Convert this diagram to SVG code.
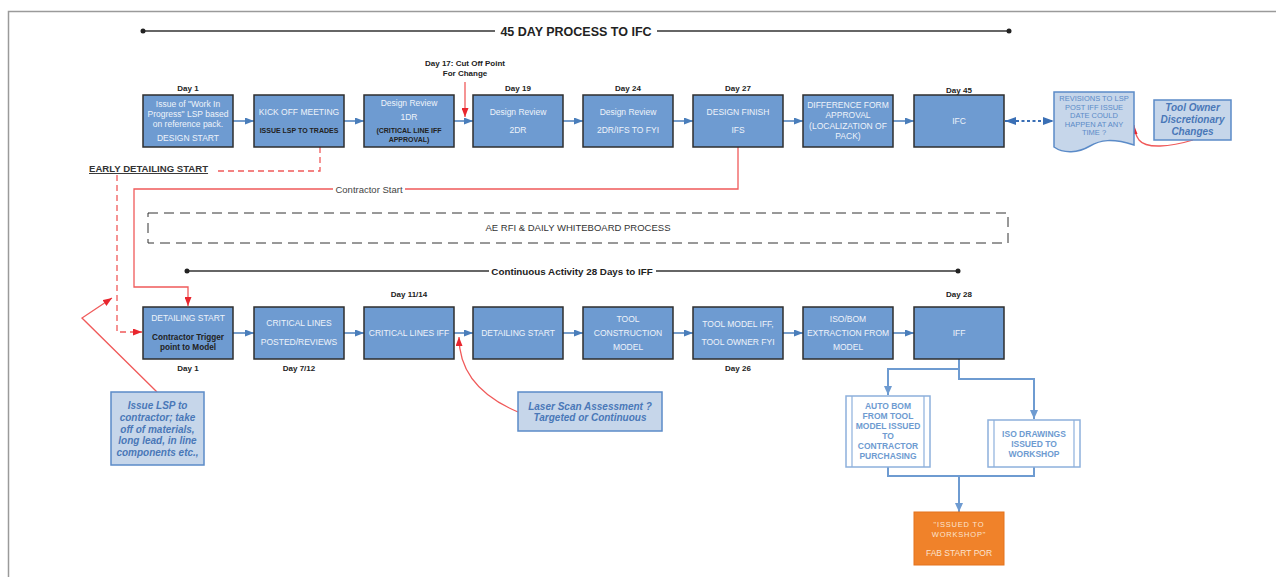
<svg xmlns="http://www.w3.org/2000/svg" width="1276" height="577" viewBox="0 0 1276 577">
<style>
text{font-family:"Liberation Sans",Arial,sans-serif}
.box{fill:#6e9bd1;stroke:#2e2e2e;stroke-width:1.5}
.bt{fill:#eef3fa;font-size:8.5px;text-anchor:middle}
.dk{fill:#222;font-size:7px;font-weight:bold;text-anchor:middle}
.dk2{fill:#222;font-size:8.2px;font-weight:bold;text-anchor:middle}
.day{fill:#222;font-size:8px;font-weight:bold;text-anchor:middle}
.flow{stroke:#4a7ebb;stroke-width:1.5;fill:none;marker-end:url(#ab)}
.red{stroke:#f05a5a;stroke-width:1.3;fill:none}
.call{fill:#c6d6ea;stroke:#5b8bc8;stroke-width:1.5}
.ct{fill:#4a78b8;font-size:10px;font-weight:bold;font-style:italic;text-anchor:middle}
.lb{stroke:#6e9bd1;stroke-width:2;fill:none}
.pp{fill:#fff;stroke:#8db0dc;stroke-width:1.5}
.pt{fill:#6e9bd1;font-size:8.5px;font-weight:bold;text-anchor:middle}
.tl{stroke:#333;stroke-width:1.5}
</style>
<defs>
<marker id="ab" markerUnits="userSpaceOnUse" markerWidth="9" markerHeight="7" refX="9" refY="3.5" orient="auto"><path d="M0,0 L9,3.5 L0,7 z" fill="#4a7ebb"/></marker>
<marker id="ar" markerUnits="userSpaceOnUse" markerWidth="9" markerHeight="7" refX="9" refY="3.5" orient="auto"><path d="M0,0 L9,3.5 L0,7 z" fill="#e8262e"/></marker>
<marker id="al" markerUnits="userSpaceOnUse" markerWidth="9" markerHeight="8" refX="9" refY="4" orient="auto"><path d="M0,0 L9,4 L0,8 z" fill="#6e9bd1"/></marker>
<marker id="ad" markerUnits="userSpaceOnUse" markerWidth="11" markerHeight="8" refX="11" refY="4" orient="auto-start-reverse"><path d="M0,0 L11,4 L0,8 z" fill="#3a6fb5"/></marker>
</defs>
<rect width="1276" height="577" fill="#fff"/>
<path d="M8.5,577 V11.5 H1276" fill="none" stroke="#9a9a9a" stroke-width="1.5"/>

<g id="timeline-top">
<line class="tl" x1="143" y1="31" x2="1009" y2="31"/>
<circle cx="143" cy="31" r="2.5" fill="#222"/><circle cx="1009" cy="31" r="2.5" fill="#222"/>
<rect x="495" y="23" width="162" height="16" fill="#fff"/>
<text x="576" y="35.5" text-anchor="middle" font-size="12.5" font-weight="bold" fill="#222">45 DAY PROCESS TO IFC</text>
</g>
<g id="timeline-bottom">
<line class="tl" x1="187" y1="271" x2="958" y2="271"/>
<circle cx="187" cy="271" r="2.5" fill="#222"/><circle cx="958" cy="271" r="2.5" fill="#222"/>
<rect x="489" y="264" width="167" height="14" fill="#fff"/>
<text x="572" y="274.5" text-anchor="middle" font-size="9.8" font-weight="bold" fill="#222">Continuous Activity 28 Days to IFF</text>
</g>

<g id="ae-rfi">
<rect x="148" y="213" width="860" height="30" fill="none" stroke="#333" stroke-width="1" stroke-dasharray="10 6"/>
<text x="578" y="231" text-anchor="middle" font-size="9.5" fill="#333">AE RFI &amp; DAILY WHITEBOARD PROCESS</text>
</g>

<g id="connectors">
<path class="flow" d="M233,121 H254"/>
<path class="flow" d="M344,121 H364"/>
<path class="flow" d="M454,121 H473"/>
<path class="flow" d="M563,121 H583"/>
<path class="flow" d="M673,121 H693"/>
<path class="flow" d="M783,121 H803"/>
<path class="flow" d="M893,121 H914"/>
<path class="flow" d="M233,333 H254"/>
<path class="flow" d="M344,333 H364"/>
<path class="flow" d="M454,333 H473"/>
<path class="flow" d="M563,333 H583"/>
<path class="flow" d="M673,333 H693"/>
<path class="flow" d="M783,333 H803"/>
<path class="flow" d="M893,333 H914"/>
<path d="M1005,121 H1054" stroke="#3a6fb5" stroke-width="1.8" stroke-dasharray="3 2.5" fill="none" marker-start="url(#ad)" marker-end="url(#ad)"/>
<path class="red" d="M465,82 V117" stroke="#e8262e" marker-end="url(#ar)"/>
<path class="red" d="M320,147 V171 H218" stroke-dasharray="6 4"/>
<path class="red" d="M117,175 V332 H142" stroke-dasharray="6 4" marker-end="url(#ar)"/>
<path class="red" d="M738,147 V189 H134 V287 H188 V306" marker-end="url(#ar)"/>
<rect x="333" y="183" width="72" height="12" fill="#fff"/>
<text x="369" y="192.5" text-anchor="middle" font-size="9.5" fill="#444">Contractor Start</text>
<path class="red" d="M1193,140 C1170,147 1146,149 1139,140 C1135,134 1134,130 1134,125" stroke="#e8262e" marker-end="url(#ar)"/>
<path class="red" d="M157,392 L82,318 L112,298" stroke="#e8262e" marker-end="url(#ar)"/>
<path class="red" d="M518,412 C480,396 459,372 459,337" stroke="#e8262e" marker-end="url(#ar)"/>
<path class="lb" d="M959,359 V369 H888 V395" marker-end="url(#al)"/>
<path class="lb" d="M959,369 V379 H1034 V419" marker-end="url(#al)"/>
<path class="lb" d="M888,467 V476 H1034 V467"/>
<path class="lb" d="M959,476 V512" marker-end="url(#al)"/>
</g>

<g id="labels">
<text class="day" x="188" y="91">Day 1</text>
<text class="day" x="465" y="66">Day 17: Cut Off Point</text>
<text class="day" x="465" y="76">For Change</text>
<text class="day" x="518" y="91">Day 19</text>
<text class="day" x="628" y="91">Day 24</text>
<text class="day" x="738" y="91">Day 27</text>
<text class="day" x="959" y="93">Day 45</text>
<text class="day" x="409" y="297">Day 11/14</text>
<text class="day" x="959" y="297">Day 28</text>
<text class="day" x="188" y="371">Day 1</text>
<text class="day" x="299" y="371">Day 7/12</text>
<text class="day" x="738" y="371">Day 26</text>
<text x="89" y="172" font-size="9.6" font-weight="bold" fill="#333" text-decoration="underline">EARLY DETAILING START</text>
</g>

<g id="t1"><rect class="box" x="143" y="95" width="90" height="52"/>
<text class="bt" x="188" y="107">Issue of "Work In</text><text class="bt" x="188" y="117">Progress" LSP based</text><text class="bt" x="188" y="127">on reference pack.</text><text class="bt" x="188" y="141">DESIGN START</text></g>
<g id="t2"><rect class="box" x="254" y="95" width="90" height="52"/>
<text class="bt" x="299" y="115">KICK OFF MEETING</text><text class="dk" x="299" y="133">ISSUE LSP TO TRADES</text></g>
<g id="t3"><rect class="box" x="364" y="95" width="90" height="52"/>
<text class="bt" x="409" y="106">Design Review</text><text class="bt" x="409" y="120">1DR</text><text class="dk" x="409" y="133">(CRITICAL LINE IFF</text><text class="dk" x="409" y="142">APPROVAL)</text></g>
<g id="t4"><rect class="box" x="473" y="95" width="90" height="52"/>
<text class="bt" x="518" y="115">Design  Review</text><text class="bt" x="518" y="133">2DR</text></g>
<g id="t5"><rect class="box" x="583" y="95" width="90" height="52"/>
<text class="bt" x="628" y="115">Design Review</text><text class="bt" x="628" y="133">2DR/IFS TO FYI</text></g>
<g id="t6"><rect class="box" x="693" y="95" width="90" height="52"/>
<text class="bt" x="738" y="115">DESIGN FINISH</text><text class="bt" x="738" y="133">IFS</text></g>
<g id="t7"><rect class="box" x="803" y="95" width="90" height="52"/>
<text class="bt" x="848" y="108">DIFFERENCE FORM</text><text class="bt" x="848" y="118">APPROVAL</text><text class="bt" x="848" y="129">(LOCALIZATION OF</text><text class="bt" x="848" y="139">PACK)</text></g>
<g id="t8"><rect class="box" x="914" y="95" width="90" height="52"/>
<text class="bt" x="959" y="124">IFC</text></g>

<g id="revisions">
<path class="call" d="M1054,92 H1134 V145 C1112,138 1100,140 1090,146 C1078,153 1064,154 1054,147 Z"/>
<g fill="#5b8bc8" font-size="7.5" text-anchor="middle">
<text x="1094" y="101">REVISIONS TO LSP</text><text x="1094" y="109.5">POST IFF ISSUE</text><text x="1094" y="118">DATE COULD</text><text x="1094" y="126.5">HAPPEN AT ANY</text><text x="1094" y="135">TIME ?</text></g>
</g>
<g id="tool-owner"><rect class="call" x="1154" y="100" width="77" height="40"/>
<text class="ct" x="1192.5" y="111">Tool Owner</text><text class="ct" x="1192.5" y="123">Discretionary</text><text class="ct" x="1192.5" y="135">Changes</text></g>

<g id="b1"><rect class="box" x="143" y="307" width="90" height="52"/>
<text class="bt" x="188" y="321">DETAILING START</text><text class="dk2" x="188" y="340">Contractor Trigger</text><text class="dk2" x="188" y="350">point to Model</text></g>
<g id="b2"><rect class="box" x="254" y="307" width="90" height="52"/>
<text class="bt" x="299" y="326">CRITICAL LINES</text><text class="bt" x="299" y="345">POSTED/REVIEWS</text></g>
<g id="b3"><rect class="box" x="364" y="307" width="90" height="52"/>
<text class="bt" x="409" y="336">CRITICAL LINES IFF</text></g>
<g id="b4"><rect class="box" x="473" y="307" width="90" height="52"/>
<text class="bt" x="518" y="336">DETAILING START</text></g>
<g id="b5"><rect class="box" x="583" y="307" width="90" height="52"/>
<text class="bt" x="628" y="322">TOOL</text><text class="bt" x="628" y="336">CONSTRUCTION</text><text class="bt" x="628" y="350">MODEL</text></g>
<g id="b6"><rect class="box" x="693" y="307" width="90" height="52"/>
<text class="bt" x="738" y="327">TOOL MODEL IFF,</text><text class="bt" x="738" y="345">TOOL OWNER FYI</text></g>
<g id="b7"><rect class="box" x="803" y="307" width="90" height="52"/>
<text class="bt" x="848" y="322">ISO/BOM</text><text class="bt" x="848" y="336">EXTRACTION FROM</text><text class="bt" x="848" y="350">MODEL</text></g>
<g id="b8"><rect class="box" x="914" y="307" width="90" height="52"/>
<text class="bt" x="959" y="336">IFF</text></g>

<g id="issue-lsp"><rect class="call" x="111" y="392" width="93" height="73"/>
<text class="ct" x="157.5" y="409">Issue LSP to</text><text class="ct" x="157.5" y="421">contractor; take</text><text class="ct" x="157.5" y="433">off of materials,</text><text class="ct" x="157.5" y="444">long lead, in line</text><text class="ct" x="157.5" y="456">components etc.,</text></g>
<g id="laser-scan"><rect class="call" x="518" y="392" width="144" height="39"/>
<text class="ct" x="590" y="410">Laser Scan Assessment ?</text><text class="ct" x="590" y="421">Targeted or Continuous</text></g>

<g id="auto-bom"><rect class="pp" x="846" y="396" width="84" height="71"/>
<line x1="852" y1="396" x2="852" y2="467" stroke="#8db0dc" stroke-width="1.2"/><line x1="924" y1="396" x2="924" y2="467" stroke="#8db0dc" stroke-width="1.2"/>
<text class="pt" x="888" y="409">AUTO BOM</text><text class="pt" x="888" y="419">FROM TOOL</text><text class="pt" x="888" y="429">MODEL ISSUED</text><text class="pt" x="888" y="439">TO</text><text class="pt" x="888" y="449">CONTRACTOR</text><text class="pt" x="888" y="459">PURCHASING</text></g>
<g id="iso-drawings"><rect class="pp" x="988" y="420" width="92" height="47"/>
<line x1="994" y1="420" x2="994" y2="467" stroke="#8db0dc" stroke-width="1.2"/><line x1="1074" y1="420" x2="1074" y2="467" stroke="#8db0dc" stroke-width="1.2"/>
<text class="pt" x="1034" y="437">ISO DRAWINGS</text><text class="pt" x="1034" y="447">ISSUED TO</text><text class="pt" x="1034" y="457">WORKSHOP</text></g>

<g id="fab-start"><rect x="914" y="512" width="90" height="53" fill="#f0822a" stroke="#e4731c" stroke-width="1"/>
<g fill="#fbe3cf" text-anchor="middle"><text x="959" y="527" font-size="7.5" letter-spacing="0.8">"ISSUED TO</text><text x="959" y="537" font-size="7.5" letter-spacing="0.8">WORKSHOP"</text><text x="959" y="556" font-size="8.5">FAB START POR</text></g></g>
</svg>
